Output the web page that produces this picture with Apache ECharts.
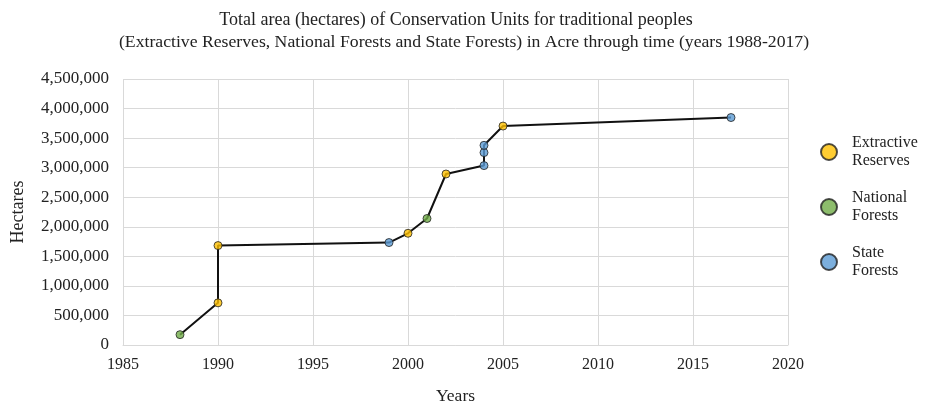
<!DOCTYPE html>
<html>
<head>
<meta charset="utf-8">
<script src="https://cdn.jsdelivr.net/npm/echarts@6/dist/echarts.min.js"></script>
<style>
  html, body { margin: 0; padding: 0; background: #fff; }
  #chart { width: 934px; height: 405px; }
</style>
</head>
<body>
<div id="chart"></div>
<script>
// data
const years = [1988, 1990, 1990, 1999, 2000, 2001, 2002, 2004, 2004, 2004, 2005, 2017];
const hectares = [175000, 713000, 1682000, 1733000, 1890000, 2140000, 2893000, 3035000, 3255000, 3378000, 3704000, 3848000];
const unitTypes = ["NF", "ER", "ER", "SF", "ER", "NF", "ER", "SF", "SF", "SF", "ER", "SF"];

const typeKeys = ["ER", "NF", "SF"];
const typeNames = ["Extractive Reserves", "National Forests", "State Forests"];
const typeLabels = ["Extractive\nReserves", "National\nForests", "State\nForests"];
const typeColors = ["#ffc000", "#70ad47", "#5b9bd5"];

const titleLines = [
  "Total area (hectares) of Conservation Units for traditional peoples",
  "(Extractive Reserves, National Forests and State Forests) in Acre through time (years 1988-2017)",
];

const font = "Liberation Serif";

const chart = echarts.init(document.getElementById("chart"));

const linePoints = years.map((y, i) => [y, hectares[i]]);

const scatterSeries = typeKeys.map((key, k) => ({
  name: typeNames[k],
  type: "scatter",
  symbol: "circle",
  symbolSize: 8,
  z: 5,
  itemStyle: {
    color: typeColors[k],
    borderColor: "#222",
    borderWidth: 1,
  },
  data: linePoints.filter((p, i) => unitTypes[i] === key),
}));

const titleStyle = {
  fontFamily: font,
  fontWeight: "normal",
  fontSize: 17.7,
  color: "#222",
};

const option = {
  animation: false,
  title: [
    {
      text: titleLines[0],
      left: 451,
      top: 6,
      textAlign: "center",
      textStyle: Object.assign({}, titleStyle, { fontSize: 18 }),
    },
    {
      text: titleLines[1],
      left: 459,
      top: 28,
      textAlign: "center",
      textStyle: titleStyle,
    },
  ],
  grid: {
    left: 123,
    right: 146,
    top: 79,
    bottom: 60,
    outerBoundsMode: "none",
  },
  legend: {
    orient: "vertical",
    left: 815,
    top: 129,
    itemWidth: 36,
    itemHeight: 16,
    itemGap: 19,
    data: typeNames.map((n) => ({ name: n, icon: "circle" })),
    formatter: (name) => typeLabels[typeNames.indexOf(name)],
    textStyle: {
      fontFamily: font,
      fontSize: 16,
      lineHeight: 18,
      color: "#222",
    },
  },
  xAxis: {
    type: "value",
    min: 1985,
    max: 2020,
    interval: 5,
    name: "Years",
    nameLocation: "middle",
    nameGap: 42,
    nameTextStyle: { fontFamily: font, fontSize: 17.5, color: "#222" },
    axisLine: { show: true, lineStyle: { color: "#d9d9d9" } },
    axisTick: { show: false },
    axisLabel: {
      fontFamily: font,
      fontSize: 16,
      color: "#222",
      margin: 12,
      formatter: (v) => String(v),
    },
    splitLine: { show: true, lineStyle: { color: "#d9d9d9", width: 1 } },
  },
  yAxis: {
    type: "value",
    min: 0,
    max: 4500000,
    interval: 500000,
    name: "Hectares",
    nameLocation: "middle",
    nameGap: 96,
    nameTextStyle: { fontFamily: font, fontSize: 18, color: "#222" },
    axisLine: { show: false },
    axisTick: { show: false },
    axisLabel: {
      fontFamily: font,
      fontSize: 17,
      color: "#222",
      margin: 14,
      formatter: (v) => v.toLocaleString("en-US"),
    },
    splitLine: { show: true, lineStyle: { color: "#d9d9d9", width: 1 } },
  },
  series: [
    {
      name: "Total",
      type: "line",
      symbol: "none",
      z: 2,
      lineStyle: { color: "#111", width: 2 },
      data: linePoints,
    },
    ...scatterSeries,
  ],
};

chart.setOption(option);
</script>
</body>
</html>
